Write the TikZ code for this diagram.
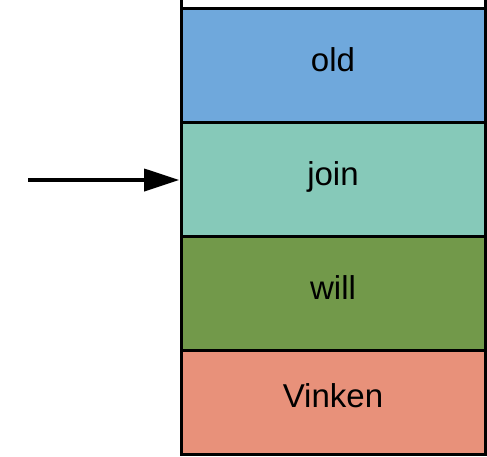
\documentclass[tikz,border=0pt]{standalone}
\usepackage{fontspec}
\setmainfont{Liberation Sans}
\usepackage{tikz}
\usetikzlibrary{arrows.meta,positioning}

\definecolor{oldblue}{HTML}{6FA8DC}
\definecolor{jointeal}{HTML}{86C9B9}
\definecolor{willgreen}{HTML}{72994A}
\definecolor{vinkenred}{HTML}{E8917A}

\begin{document}
\begin{tikzpicture}[
    > = {Triangle[length=0.7cm, width=0.44cm]}, % arrow head style
    shorten > = 1pt, % stop just before the stack
    node distance = 0pt, % cells sit on top of each other
    line width = 0.06cm
    ]

    \tikzset{cell/.style={
    draw = black,
    rectangle,
    outer sep = 0pt,
    minimum width = 6.08cm,
    minimum height = 2.28cm,
    text height = 0.48cm,
    text depth = 0.24cm,
    font = \fontsize{18.8pt}{22pt}\selectfont
    }}

    \clip (0,0) rectangle (9.74,-9.12);
    \useasboundingbox (0,0) rectangle (9.74,-9.12);

    \node[cell, fill=oldblue] (old) at (6.66,-1.31) {old};
    \node[cell, fill=white] (top) [above=of old] {};
    \node[cell, fill=jointeal] (join) [below=of old] {join};
    \node[cell, fill=willgreen] (will) [below=of join] {will};
    \node[cell, fill=vinkenred, minimum height=2.08cm, text depth=0.3cm] (vinken) [below=of will] {Vinken};

    \coordinate (start) at (0.56,-3.60);
    \draw[->, line width=0.07cm] (start) -- (start -| join.west);
\end{tikzpicture}
\end{document}
